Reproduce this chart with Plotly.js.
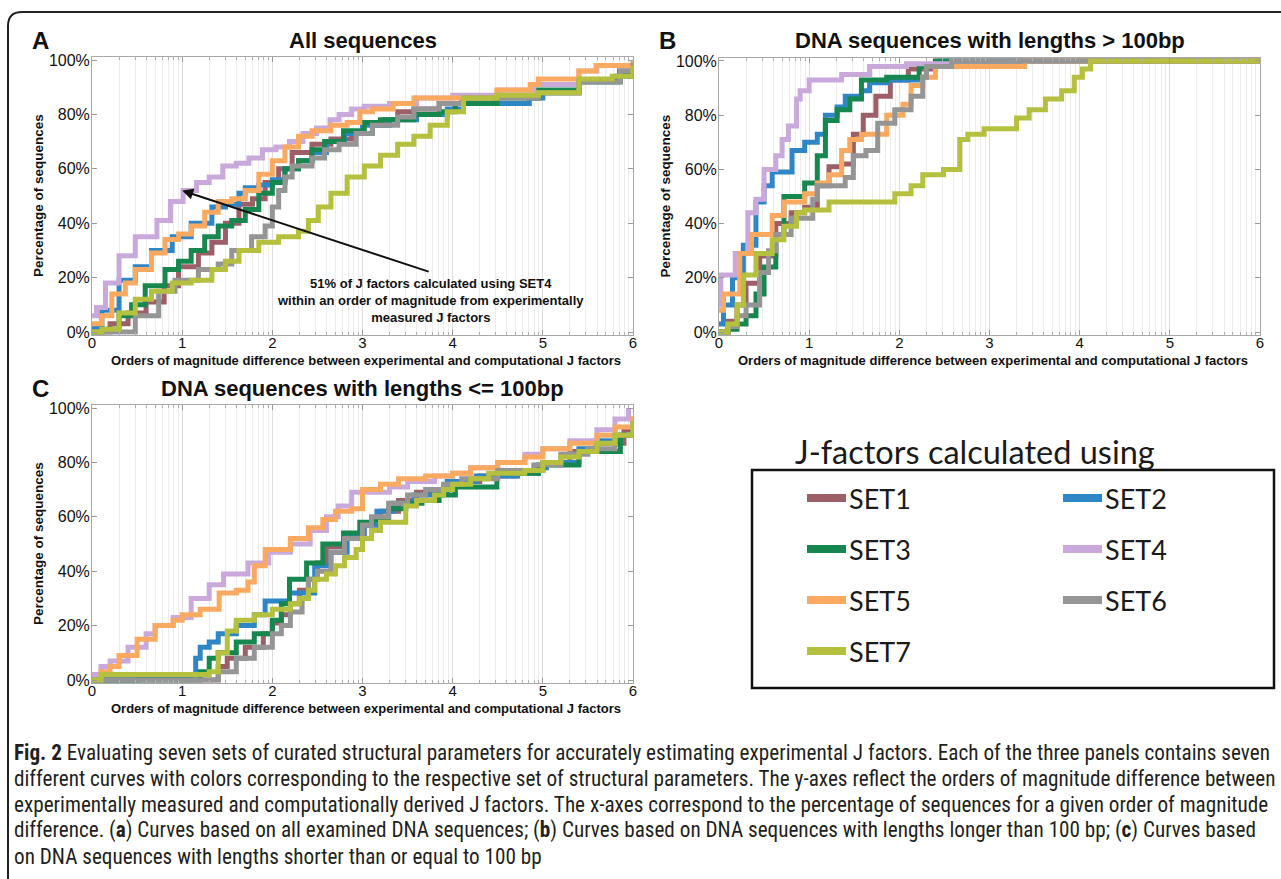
<!DOCTYPE html>
<html><head><meta charset="utf-8">
<script src="https://cdn.plot.ly/plotly-3.0.1.min.js"></script>
<style>html,body{margin:0;padding:0;background:#fff}#chart{width:1281px;height:879px}</style>
</head><body><div id="chart"></div>
<script>
// ---------- DATA ----------
const seriesNames = ['SET1','SET2','SET3','SET4','SET5','SET6','SET7'];
const seriesColors = ['#9c5f68','#2f86c6','#16874e','#c9a9dc','#f9a960','#959595','#b5c03e'];
const xTickVals = [0,1,2,3,4,5,6];
const xTickText = ['0','1','2','3','4','5','6'];
const yTickVals = [0,20,40,60,80,100];
const yTickText = ['0%','20%','40%','60%','80%','100%'];
const panelTitles = ['All sequences','DNA sequences with lengths > 100bp','DNA sequences with lengths <= 100bp'];
const panelLetters = ['A','B','C'];
const xTitle = 'Orders of magnitude difference between experimental and computational J factors';
const yTitle = 'Percentage of sequences';
const legendTitle = 'J-factors calculated using';
const noteText = ['51% of J factors calculated using SET4','within an order of magnitude from experimentally','measured J factors'];
const noteTarget = [1.0, 52];

// Panel A: all sequences
const a1x = [0,0.2,0.4,0.6,0.8,0.96,1.18,1.33,1.48,1.63,1.78,1.92,2.07,2.22,2.44,2.65,2.88,3.11,3.25,3.39,3.57,3.85,4.1,4.5,4.95,5.4,5.85,6.0];
const a1y = [0,3,7,11,17,24,29,33,40,47,49,55,60,66,69,71,73,76,78,81,82,84,86,87,88,92,96,98];
const a2x = [0,0.11,0.3,0.48,0.66,0.89,1.1,1.33,1.48,1.63,1.7,1.85,2.0,2.14,2.29,2.44,2.6,2.8,3.0,3.3,3.6,3.94,4.12,4.85,5.0,5.4,5.81,6.0];
const a2y = [2,8,19,24,30,35,40,46,47,51,53,54,56,60,63,66,70,73,76,78,80,82,84,86,88,92,94,95];
const a3x = [0,0.11,0.3,0.44,0.59,0.81,0.96,1.1,1.25,1.4,1.55,1.7,1.85,2.0,2.14,2.29,2.44,2.58,2.79,3.02,3.2,3.57,3.85,4.03,4.49,4.95,5.4,5.86,6.0];
const a3y = [0,1,6,10,17,23,26,30,35,39,41,45,51,55,60,63,67,70,74,77,78,80,81,84,86,89,92,95,97];
const a4x = [0,0.05,0.15,0.3,0.48,0.72,0.87,1.01,1.16,1.3,1.45,1.6,1.74,1.89,2.04,2.19,2.34,2.49,2.64,2.74,2.88,3.02,3.3,3.6,4.0,4.5,4.9,5.4,5.6,6.0];
const a4y = [6,9,18,28,35,41,48,52,55,57,61,62,64,67,68,70,73,75,78,80,82,83,84,86,87,89,91,96,98,100];
const a5x = [0,0.11,0.22,0.37,0.48,0.66,0.81,0.96,1.1,1.25,1.4,1.55,1.7,1.85,2.0,2.14,2.29,2.44,2.65,2.83,2.97,3.11,3.34,3.57,4.03,4.49,4.86,4.95,5.4,5.59,6.0];
const a5y = [3,6,14,18,23,29,34,36,39,44,48,49,52,58,63,68,72,74,76,77,81,82,84,86,86,89,91,93,96,98,100];
const a6x = [0,0.26,0.48,0.74,0.92,1.18,1.4,1.55,1.77,1.92,2.0,2.07,2.14,2.22,2.44,2.58,2.74,2.93,3.11,3.39,3.57,3.85,4.12,4.95,5.4,5.86,6.0];
const a6y = [0,0,6,15,19,23,25,30,35,39,46,52,57,61,64,67,69,73,76,79,82,84,86,88,92,96,99];
const a7x = [0,0.11,0.3,0.48,0.66,0.89,1.1,1.33,1.48,1.63,1.85,2.07,2.29,2.4,2.51,2.65,2.83,3.02,3.2,3.39,3.57,3.75,3.94,4.12,4.49,4.95,5.4,5.77,6.0];
const a7y = [0,1,7,12,15,18,19,23,26,30,33,35,37,41,46,51,57,61,65,69,72,76,81,86,87,88,93,94,98];

// Panel B: lengths > 100bp
const b1x = [0,0.1,0.2,0.3,0.45,0.63,0.8,0.95,1.09,1.22,1.36,1.49,1.6,1.74,1.9,2.1,2.4,6.0];
const b1y = [0,4,10,18,28,40,44,46,54,61,62,73,80,87,93,97,100,100];
const b2x = [0,0.05,0.15,0.27,0.41,0.5,0.59,0.77,0.81,0.95,1.09,1.18,1.31,1.4,1.58,1.67,1.86,2.22,2.3,2.45,6.0];
const b2y = [3,10,20,32,48,54,59,59,67,70,73,80,83,87,89,92,93,94,98,100,100];
const b3x = [0,0.1,0.2,0.3,0.41,0.5,0.63,0.72,0.95,1.09,1.18,1.31,1.45,1.58,1.86,2.22,2.4,6.0];
const b3y = [0,1,3,6,14,24,36,50,55,65,78,82,86,93,94,98,100,100];
const b4x = [0,0.02,0.18,0.32,0.41,0.5,0.63,0.7,0.77,0.86,0.9,1.0,1.36,1.67,2.08,2.58,6.0];
const b4y = [10,21,29,44,49,60,65,71,76,86,89,93,95,98,99,100,100];
const b5x = [0,0.05,0.23,0.36,0.59,0.72,0.95,1.09,1.22,1.36,1.45,1.58,1.86,2.04,2.13,2.26,2.4,3.39,6.0];
const b5y = [8,14,29,36,43,48,51,55,58,67,71,73,80,84,91,94,98,100,100];
const b6x = [0,0.1,0.2,0.3,0.45,0.55,0.63,0.8,1.04,1.09,1.4,1.49,1.63,1.76,1.95,2.13,2.26,2.3,2.58,6.0];
const b6y = [0,2,6,10,22,30,36,42,49,54,57,65,67,77,82,87,94,98,100,100];
const b7x = [0,0.1,0.2,0.27,0.41,0.59,0.72,0.86,0.95,1.22,1.95,2.13,2.26,2.49,2.67,2.76,2.94,3.3,3.44,3.62,3.8,3.94,4.03,4.12,6.0];
const b7y = [0,3,10,21,29,34,39,44,45,48,51,54,58,60,71,73,75,79,82,86,89,94,97,100,100];

// Panel C: lengths <= 100bp
const c1x = [0,1.3,1.4,1.5,1.7,1.9,2.0,2.1,2.2,2.3,2.4,2.5,2.6,2.8,3.0,3.2,3.4,3.6,3.9,4.0,4.3,4.7,5.0,5.3,5.6,5.9,6.0];
const c1y = [0,0,5,8,12,17,21,24,28,33,37,43,49,52,57,62,66,69,71,73,75,77,80,84,87,92,96];
const c2x = [0,0.5,1.1,1.15,1.2,1.3,1.4,1.6,1.8,1.92,2.19,2.47,2.65,2.83,3.02,3.16,3.34,3.57,3.8,3.94,4.26,4.72,4.95,5.04,5.4,5.59,5.86,6.0];
const c2y = [0,1,2,8,12,14,17,20,24,29,32,42,47,53,57,62,65,68,69,73,75,76,78,80,85,88,90,92];
const c3x = [0,1.1,1.2,1.3,1.4,1.6,1.8,2.0,2.1,2.19,2.38,2.56,2.79,2.97,3.11,3.29,3.48,3.66,3.85,4.03,4.49,4.95,5.4,5.86,6.0];
const c3y = [0,0,3,8,10,14,17,22,28,37,43,50,54,58,59,63,65,66,68,71,76,79,84,90,96];
const c4x = [0,0.1,0.2,0.4,0.6,0.7,0.9,1.1,1.3,1.46,1.73,1.96,2.2,2.42,2.6,2.73,2.88,3.1,3.3,3.5,3.8,4.0,4.2,4.5,4.8,5.0,5.3,5.6,5.8,5.95];
const c4y = [2,5,7,12,17,20,23,30,35,39,43,47,50,55,60,64,69,69,71,73,75,76,78,80,83,85,88,92,96,100];
const c5x = [0,0.1,0.2,0.3,0.5,0.7,0.9,1.0,1.2,1.41,1.6,1.73,1.8,1.92,2.1,2.2,2.4,2.56,2.7,2.88,3.0,3.2,3.4,3.7,4.0,4.2,4.5,4.8,5.0,5.3,5.6,5.8,6.0];
const c5y = [0,3,5,9,15,20,22,24,26,32,33,36,42,48,48,52,56,59,62,63,70,72,74,75,76,78,80,82,85,87,90,93,97];
const c6x = [0,1.3,1.4,1.6,1.8,2.0,2.1,2.2,2.33,2.4,2.5,2.65,2.8,3.0,3.1,3.29,3.5,3.7,3.9,4.1,4.5,4.9,5.2,5.5,5.8,6.0];
const c6y = [0,0,3,8,12,17,20,25,30,37,40,47,52,57,60,65,68,70,72,74,77,79,83,85,90,95];
const c7x = [0,0.1,1.3,1.4,1.5,1.6,1.8,2.0,2.2,2.3,2.4,2.47,2.6,2.7,2.8,2.93,3.0,3.1,3.2,3.48,3.6,3.8,3.9,4.0,4.2,4.4,4.8,5.0,5.2,5.4,5.6,5.8,6.0];
const c7y = [0,2,3,10,18,22,24,26,28,30,33,37,39,42,45,48,52,55,58,64,66,68,70,72,74,76,77,80,82,84,87,90,95];

const captionLines = [
  '<b>Fig. 2</b> Evaluating seven sets of curated structural parameters for accurately estimating experimental J factors. Each of the three panels contains seven',
  'different curves with colors corresponding to the respective set of structural parameters. The y-axes reflect the orders of magnitude difference between',
  'experimentally measured and computationally derived J factors. The x-axes correspond to the percentage of sequences for a given order of magnitude',
  'difference. (<b>a</b>) Curves based on all examined DNA sequences; (<b>b</b>) Curves based on DNA sequences with lengths longer than 100 bp; (<b>c</b>) Curves based',
  'on DNA sequences with lengths shorter than or equal to 100 bp'
];

// ---------- BUILD ----------
const W = 1281, H = 879;
const fx = p => p / W;
const fy = p => 1 - p / H;
const panelData = [
  [[a1x,a1y],[a2x,a2y],[a3x,a3y],[a4x,a4y],[a5x,a5y],[a6x,a6y],[a7x,a7y]],
  [[b1x,b1y],[b2x,b2y],[b3x,b3y],[b4x,b4y],[b5x,b5y],[b6x,b6y],[b7x,b7y]],
  [[c1x,c1y],[c2x,c2y],[c3x,c3y],[c4x,c4y],[c5x,c5y],[c6x,c6y],[c7x,c7y]]
];
// plot boxes in pixels: [left, right, top(100%), bottom(0%)]
const boxes = [[92,633,60,332],[719,1260,61,332],[92,633,408,680]];
const axSuffix = ['', '2', '3'];

const traces = [];
panelData.forEach((series, p) => {
  series.forEach((s, i) => {
    traces.push({
      type: 'scatter', mode: 'lines', x: s[0], y: s[1],
      xaxis: 'x' + axSuffix[p], yaxis: 'y' + axSuffix[p],
      line: {shape: 'hv', color: seriesColors[i], width: 5},
      name: seriesNames[i], showlegend: false, hoverinfo: 'skip'
    });
  });
});

const minorVals = [];
for (let k = 0; k < 6; k++) for (let m = 2; m <= 9; m++) minorVals.push(k + Math.log10(m));

const layout = {
  width: W, height: H, margin: {l:0, r:0, t:0, b:0},
  paper_bgcolor: '#ffffff', plot_bgcolor: '#ffffff',
  font: {family: 'Liberation Sans, Arial, sans-serif', color: '#111'},
  showlegend: false, annotations: [], shapes: []
};
const pad = 2.72; // 1% in px
boxes.forEach((b, p) => {
  const xa = {
    domain: [fx(b[0]), fx(b[1])], range: [0, 6], anchor: 'y' + axSuffix[p],
    tickmode: 'array', tickvals: xTickVals, ticktext: xTickText,
    ticks: 'inside', ticklen: 5, tickcolor: '#9a9a9a', ticklabelstandoff: -6,
    showline: true, linecolor: '#a8a8a8', linewidth: 1, mirror: 'allticks',
    showgrid: true, gridcolor: '#dedede', gridwidth: 1, zeroline: false,
    tickfont: {size: 15, color: '#111'},
    minor: {tickmode: 'array', tickvals: minorVals, showgrid: true, gridcolor: '#ececec',
            ticks: 'inside', ticklen: 3, tickcolor: '#b0b0b0'},
    fixedrange: true
  };
  const ya = {
    domain: [fy(b[3] + pad), fy(b[2] - pad)], range: [-1, 101], anchor: 'x' + axSuffix[p],
    tickmode: 'array', tickvals: yTickVals, ticktext: yTickText,
    ticks: 'inside', ticklen: 5, tickcolor: '#9a9a9a', ticklabelstandoff: -2,
    showline: true, linecolor: '#a8a8a8', linewidth: 1, mirror: 'allticks',
    showgrid: false, zeroline: false,
    tickfont: {size: 16, color: '#111'},
    fixedrange: true
  };
  layout['xaxis' + axSuffix[p]] = xa;
  layout['yaxis' + axSuffix[p]] = ya;
  const cx = (b[0] + b[1]) / 2;
  const ty = b[2] - 20;
  layout.annotations.push({xref:'paper', yref:'paper', x: fx(cx), y: fy(ty), xanchor:'center', yanchor:'middle',
    text: panelTitles[p], showarrow:false, font:{size:22, weight:'bold', color:'#111'}});
  layout.annotations.push({xref:'paper', yref:'paper', x: fx(b[0] - 52), y: fy(ty), xanchor:'center', yanchor:'middle',
    text: panelLetters[p], showarrow:false, font:{size:24, weight:'bold', color:'#111'}});
  // axis titles
  layout.annotations.push({xref:'paper', yref:'paper', x: fx(cx + 3), y: fy(b[3] + 28), xanchor:'center', yanchor:'middle',
    text: xTitle, showarrow:false, font:{size:13, weight:'bold', color:'#111'}});
  layout.annotations.push({xref:'paper', yref:'paper', x: fx(b[0] - 54), y: fy((b[2] + b[3]) / 2), xanchor:'center', yanchor:'middle',
    text: yTitle, textangle: -90, showarrow:false, font:{size:13.5, weight:'bold', color:'#111'}});
});

// arrow + note in panel A
layout.annotations.push({xref:'x', yref:'y', axref:'x', ayref:'y', x: noteTarget[0], y: noteTarget[1],
  ax: 3.75, ay: 22, text: '', showarrow: true, arrowhead: 2, arrowsize: 1.1, arrowwidth: 2, arrowcolor: '#111'});
layout.annotations.push({xref:'x', yref:'y', x: 3.75, y: 11.5, xanchor:'center', yanchor:'middle',
  text: noteText.join('<br>'), showarrow:false, align:'center', font:{size:13, weight:'bold', color:'#111'}});

// custom legend
const legBox = [752, 1274, 470, 688];
layout.shapes.push({type:'rect', xref:'paper', yref:'paper', x0: fx(legBox[0]), x1: fx(legBox[1]),
  y0: fy(legBox[3]), y1: fy(legBox[2]), line:{color:'#111', width:2.5}, fillcolor:'rgba(0,0,0,0)'});
layout.annotations.push({xref:'paper', yref:'paper', x: fx(975), y: fy(451), xanchor:'center', yanchor:'middle',
  text: legendTitle, showarrow:false, font:{family:'Lato, Open Sans, sans-serif', size:32.5, color:'#1a1a1a'}});
const colX = [807, 1063], rowY0 = 498, rowGap = 51;
seriesNames.forEach((nm, i) => {
  const c = i % 2, r = Math.floor(i / 2);
  const yy = rowY0 + r * rowGap;
  layout.shapes.push({type:'line', xref:'paper', yref:'paper', x0: fx(colX[c]), x1: fx(colX[c] + 39),
    y0: fy(yy), y1: fy(yy), line:{color: seriesColors[i], width: 8}});
  layout.annotations.push({xref:'paper', yref:'paper', x: fx(colX[c] + 40), y: fy(yy), xanchor:'left', yanchor:'middle',
    text: nm, showarrow:false, font:{family:'Lato, Open Sans, sans-serif', size:27, color:'#1a1a1a'}});
});

// outer frame
layout.shapes.push({type:'path', xref:'paper', yref:'paper',
  path: `M ${fx(8)} ${fy(879)} L ${fx(8)} ${fy(26)} Q ${fx(8)} ${fy(12)} ${fx(22)} ${fy(12)} L ${fx(1295)} ${fy(12)}`,
  line:{color:'#222', width:2}});

// caption
const capY = [752, 778, 804, 830, 856];
captionLines.forEach((t, i) => {
  layout.annotations.push({xref:'paper', yref:'paper', x: fx(12), y: fy(capY[i]), xanchor:'left', yanchor:'middle',
    text: t, showarrow:false, align:'left',
    font:{family:'Liberation Sans Narrow, Arial Narrow, Roboto Condensed, sans-serif', size:21.2, color:'#231f20'}});
});

Plotly.newPlot('chart', traces, layout, {staticPlot: true, displayModeBar: false});
</script>
</body></html>
